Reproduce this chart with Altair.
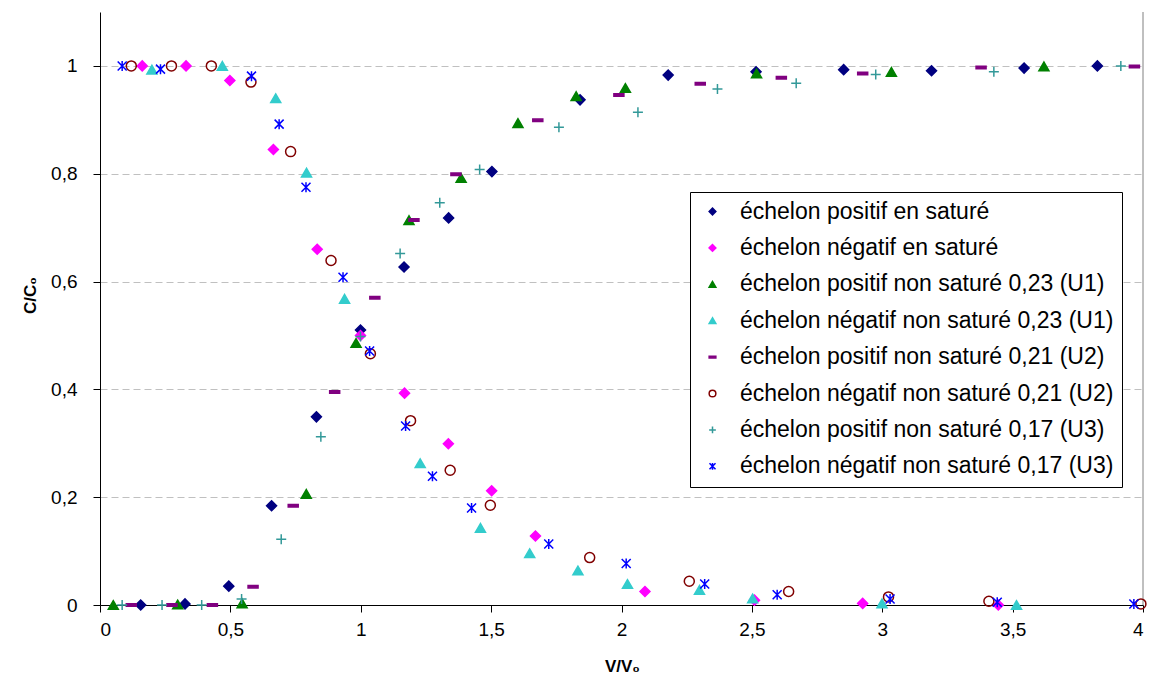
import altair as alt
import pandas as pd

series_names = [
    "échelon positif en saturé",
    "échelon négatif en saturé",
    "échelon positif non saturé 0,23 (U1)",
    "échelon négatif non saturé 0,23 (U1)",
    "échelon positif non saturé 0,21 (U2)",
    "échelon négatif non saturé 0,21 (U2)",
    "échelon positif non saturé 0,17 (U3)",
    "échelon négatif non saturé 0,17 (U3)",
]

pos_sat_x = [0.156, 0.326, 0.494, 0.658, 0.830, 0.999, 1.166, 1.337, 1.503, 1.841, 2.179, 2.516, 2.852, 3.189, 3.544, 3.825]
pos_sat_y = [0.0, 0.002, 0.035, 0.184, 0.349, 0.510, 0.627, 0.718, 0.804, 0.937, 0.983, 0.989, 0.993, 0.991, 0.996, 1.0]

neg_sat_x = [0.162, 0.330, 0.498, 0.665, 0.833, 0.999, 1.168, 1.336, 1.502, 1.670, 2.090, 2.510, 2.925, 3.445]
neg_sat_y = [1.0, 1.0, 0.973, 0.845, 0.660, 0.500, 0.393, 0.299, 0.212, 0.128, 0.025, 0.009, 0.003, 0.0]

pos_u1_x = [0.051, 0.298, 0.545, 0.791, 0.982, 1.185, 1.385, 1.603, 1.826, 2.015, 2.518, 3.035, 3.620]
pos_u1_y = [0.0, 0.001, 0.003, 0.206, 0.486, 0.714, 0.792, 0.894, 0.944, 0.959, 0.986, 0.989, 0.999]

neg_u1_x = [0.199, 0.469, 0.674, 0.792, 0.938, 1.228, 1.459, 1.648, 1.833, 2.023, 2.299, 2.503, 2.999, 3.515]
neg_u1_y = [0.993, 1.0, 0.940, 0.802, 0.568, 0.263, 0.143, 0.096, 0.064, 0.039, 0.028, 0.012, 0.003, 0.0]

pos_u2_x = [0.120, 0.276, 0.431, 0.587, 0.741, 0.900, 1.054, 1.204, 1.365, 1.679, 1.990, 2.302, 2.613, 2.925, 3.379, 3.967]
pos_u2_y = [0.0, 0.0, 0.0, 0.034, 0.184, 0.395, 0.570, 0.714, 0.799, 0.899, 0.946, 0.967, 0.978, 0.986, 0.997, 0.999]

neg_u2_x = [0.120, 0.274, 0.427, 0.579, 0.731, 0.886, 1.037, 1.191, 1.343, 1.497, 1.878, 2.260, 2.641, 3.024, 3.409, 3.992]
neg_u2_y = [1.0, 1.0, 1.0, 0.970, 0.841, 0.639, 0.466, 0.342, 0.250, 0.185, 0.088, 0.044, 0.025, 0.015, 0.007, 0.002]

pos_u3_x = [0.085, 0.238, 0.390, 0.543, 0.695, 0.847, 0.999, 1.151, 1.303, 1.456, 1.760, 2.063, 2.368, 2.670, 2.975, 3.428, 3.915]
pos_u3_y = [0.0, 0.0, 0.0, 0.011, 0.122, 0.312, 0.498, 0.652, 0.746, 0.808, 0.886, 0.914, 0.957, 0.968, 0.984, 0.989, 1.0]

neg_u3_x = [0.085, 0.232, 0.581, 0.687, 0.790, 0.932, 1.034, 1.172, 1.275, 1.425, 1.721, 2.018, 2.319, 2.597, 3.030, 3.441, 3.965]
neg_u3_y = [1.0, 0.994, 0.981, 0.892, 0.775, 0.608, 0.471, 0.332, 0.239, 0.180, 0.113, 0.077, 0.039, 0.019, 0.011, 0.005, 0.002]

x_ticks = [0, 0.5, 1, 1.5, 2, 2.5, 3, 3.5, 4]
y_ticks = [0, 0.2, 0.4, 0.6, 0.8, 1]

all_x = [pos_sat_x, neg_sat_x, pos_u1_x, neg_u1_x, pos_u2_x, neg_u2_x, pos_u3_x, neg_u3_x]
all_y = [pos_sat_y, neg_sat_y, pos_u1_y, neg_u1_y, pos_u2_y, neg_u2_y, pos_u3_y, neg_u3_y]

rows = []
for name, xs, ys in zip(series_names, all_x, all_y):
    for xv, yv in zip(xs, ys):
        rows.append({"series": name, "x": xv, "y": yv})
df = pd.DataFrame(rows)

stroke_colors = ["#000080", "#FF00FF", "#008000", "#33CCCC", "#800080", "#800000", "#339999", "#0000FF"]
fill_colors = ["#000080", "#FF00FF", "#008000", "#33CCCC", "#800080", "transparent", "transparent", "transparent"]
plus_path = "M-1,0L1,0M0,-1L0,1"
star_path = "M-0.9,-0.9L0.9,0.9M0.9,-0.9L-0.9,0.9M0,-1L0,1"
dash_path = "M-1,-0.25L1,-0.25L1,0.25L-1,0.25Z"
shapes = ["diamond", "diamond", "triangle-up", "triangle-up", dash_path, "circle", plus_path, star_path]

W, H = 1043, 593

legend = alt.Legend(
    title=None, orient="none", legendX=590, legendY=180,
    padding=8, symbolOffset=3, labelOffset=16, rowPadding=12.4,
    strokeColor="black", fillColor="white",
    labelFontSize=23, labelFont="Liberation Sans", labelColor="black",
    labelLimit=600, symbolSize=45, symbolStrokeWidth=1.5,
)

points = alt.Chart(df).mark_point(opacity=1, size=100, strokeWidth=1.5).encode(
    x=alt.X("x:Q", scale=alt.Scale(domain=[0, 4], nice=False, zero=False),
            axis=alt.Axis(values=x_ticks, title="V/V₀",
                          labelExpr="replace(toString(datum.value), '.', ',')",
                          grid=False, titleX=522, titleY=61,
                          titleAlign="center", titleBaseline="middle")),
    y=alt.Y("y:Q", scale=alt.Scale(domain=[0, 1.1], nice=False),
            axis=alt.Axis(values=y_ticks, title="C/C₀",
                          labelExpr="replace(toString(datum.value), '.', ',')",
                          grid=True, gridDash=[7, 4], gridColor="#C0C0C0",
                          titleX=-70, titleY=283, titleAngle=-90,
                          titleAlign="center", titleBaseline="middle")),
    stroke=alt.Stroke("series:N", scale=alt.Scale(domain=series_names, range=stroke_colors), legend=legend),
    fill=alt.Fill("series:N", scale=alt.Scale(domain=series_names, range=fill_colors), legend=legend),
    shape=alt.Shape("series:N", scale=alt.Scale(domain=series_names, range=shapes), legend=legend),
)

border = alt.Chart(pd.DataFrame({"a": [0]})).mark_rule(color="#808080", strokeWidth=1).encode(
    x=alt.value(W), y=alt.value(0), y2=alt.value(H)
)

chart = alt.layer(border, points).properties(
    width=W, height=H,
    autosize=alt.AutoSizeParams(type="none"),
    padding={"left": 92, "top": 4, "right": 6, "bottom": 70},
).configure_view(stroke=None).configure_axis(
    domainColor="black", tickColor="black", tickSize=7,
    labelColor="black", labelFont="Liberation Sans", labelFontSize=19,
    titleFont="Liberation Sans", titleFontSize=17, titleFontWeight="bold", titleColor="black",
).configure_axisX(labelPadding=8).configure_axisY(labelPadding=16)

chart.save("out.html", embed_options={"renderer": "svg", "actions": False})
